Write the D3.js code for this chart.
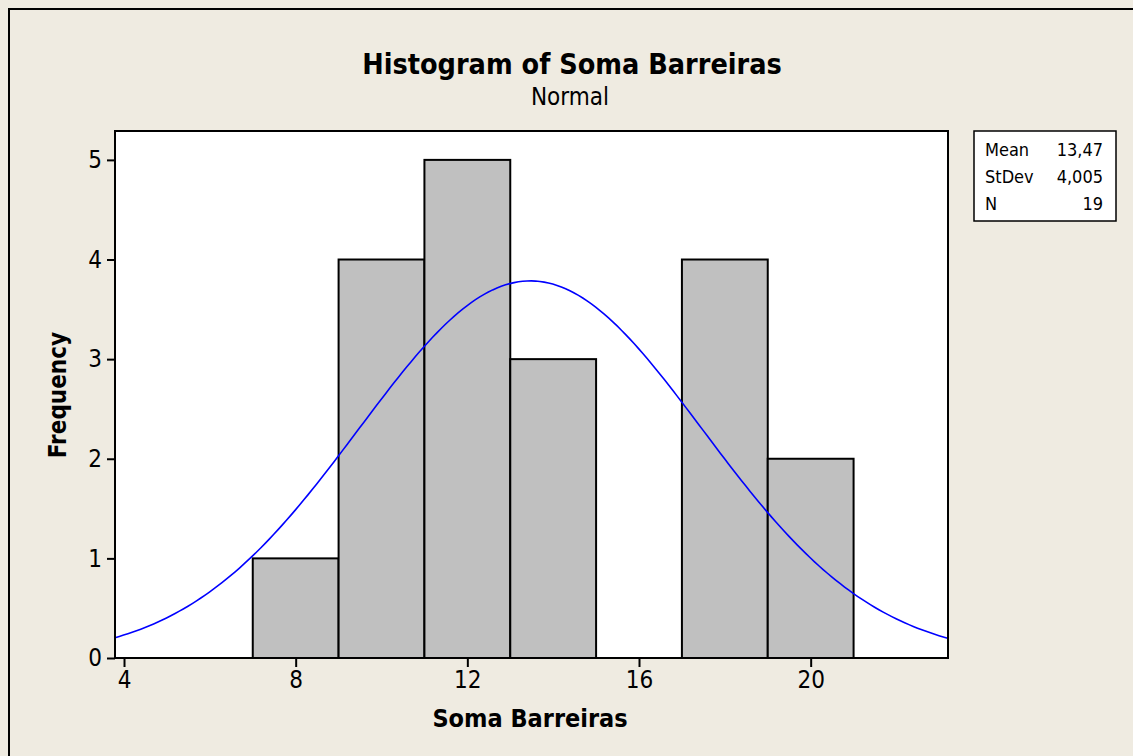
<!DOCTYPE html>
<html>
<head>
<meta charset="utf-8">
<script src="https://cdn.jsdelivr.net/npm/d3@7"></script>
<style>
  body { margin: 0; background: #efebe1; }
  svg { display: block; }
  text { font-family: "DejaVu Sans Condensed", "DejaVu Sans", sans-serif; fill: #000; }
</style>
</head>
<body>
<div id="chart"></div>
<script>
// histogram bins (edges) and frequencies
const binEdges = [7, 9, 11, 13, 15, 17, 19, 21];
const counts = [1, 4, 5, 3, 0, 4, 2];
const xTicks = [4, 8, 12, 16, 20];
const yTicks = [0, 1, 2, 3, 4, 5];
// summary box
const statLabels = ["Mean", "StDev", "N"];
const statValues = ["13,47", "4,005", "19"];
const fitMean = 13.47;
const fitSd = 4.005;
const fitN = 19;

const W = 1133, H = 756;
const margin = { top: 131, right: 185, bottom: 98, left: 115 };
const width = W - margin.left - margin.right;
const height = H - margin.top - margin.bottom;

const svg = d3.select("#chart").append("svg")
  .attr("width", W)
  .attr("height", H);

// outer frame (only top/left visible)
svg.append("rect")
  .attr("x", 9).attr("y", 9)
  .attr("width", W + 20).attr("height", H + 20)
  .attr("fill", "#efebe1")
  .attr("stroke", "#000").attr("stroke-width", 2);

const x = d3.scaleLinear().domain([3.79, 23.2]).range([0, width]);
const y = d3.scaleLinear().domain([0, 5.29]).range([height, 0]);

const g = svg.append("g")
  .attr("transform", "translate(" + margin.left + "," + margin.top + ")");

g.append("rect")
  .attr("width", width).attr("height", height)
  .attr("fill", "#fff");

// bars
const bins = counts.map((c, i) => ({ x0: binEdges[i], x1: binEdges[i + 1], n: c }));
g.selectAll(".bar")
  .data(bins)
  .join("rect")
  .attr("class", "bar")
  .attr("x", d => x(d.x0))
  .attr("y", d => y(d.n))
  .attr("width", d => x(d.x1) - x(d.x0))
  .attr("height", d => y(0) - y(d.n))
  .attr("fill", "#c0c0c0")
  .attr("stroke", "#000")
  .attr("stroke-width", 2);

// fitted normal curve
const binW = binEdges[1] - binEdges[0];
const xs = d3.range(3.79, 23.2001, 0.1);
const pdf = v => fitN * binW * Math.exp(-0.5 * ((v - fitMean) / fitSd) ** 2) / (fitSd * Math.sqrt(2 * Math.PI));
g.append("path")
  .datum(xs)
  .attr("fill", "none")
  .attr("stroke", "#0000ff")
  .attr("stroke-width", 1.6)
  .attr("d", d3.line().x(d => x(d)).y(d => y(pdf(d))));

g.append("rect")
  .attr("width", width).attr("height", height)
  .attr("fill", "none")
  .attr("stroke", "#000").attr("stroke-width", 2);

// axes
const xAxis = g.append("g")
  .attr("transform", "translate(0," + height + ")")
  .call(d3.axisBottom(x).tickValues(xTicks).tickSize(9).tickPadding(4));
const yAxis = g.append("g")
  .call(d3.axisLeft(y).tickValues(yTicks).tickFormat(d3.format("d")).tickSize(8).tickPadding(5));
[xAxis, yAxis].forEach(a => {
  a.select(".domain").remove();
  a.selectAll(".tick line").attr("stroke", "#000").attr("stroke-width", 2);
  a.selectAll(".tick text").style("font-size", "24px").attr("fill", "#000");
});

// titles
svg.append("text")
  .attr("x", 572).attr("y", 74)
  .attr("text-anchor", "middle")
  .style("font-size", "28.5px").style("font-weight", "bold")
  .text("Histogram of Soma Barreiras");
svg.append("text")
  .attr("x", 570).attr("y", 105)
  .attr("text-anchor", "middle")
  .style("font-size", "24px")
  .text("Normal");
svg.append("text")
  .attr("x", 530).attr("y", 727)
  .attr("text-anchor", "middle")
  .style("font-size", "25px").style("font-weight", "bold")
  .text("Soma Barreiras");
svg.append("text")
  .attr("transform", "translate(66,395) rotate(-90)")
  .attr("text-anchor", "middle")
  .style("font-size", "24px").style("font-weight", "bold")
  .text("Frequency");

// stats box
const box = svg.append("g").attr("transform", "translate(974,131)");
box.append("rect")
  .attr("width", 142).attr("height", 90)
  .attr("fill", "#fff")
  .attr("stroke", "#000").attr("stroke-width", 1.5);
statLabels.forEach((s, i) => {
  box.append("text").attr("x", 11).attr("y", 25 + i * 27)
    .style("font-size", "18px").text(s);
  box.append("text").attr("x", 129).attr("y", 25 + i * 27)
    .attr("text-anchor", "end")
    .style("font-size", "18px").text(statValues[i]);
});
</script>
</body>
</html>
